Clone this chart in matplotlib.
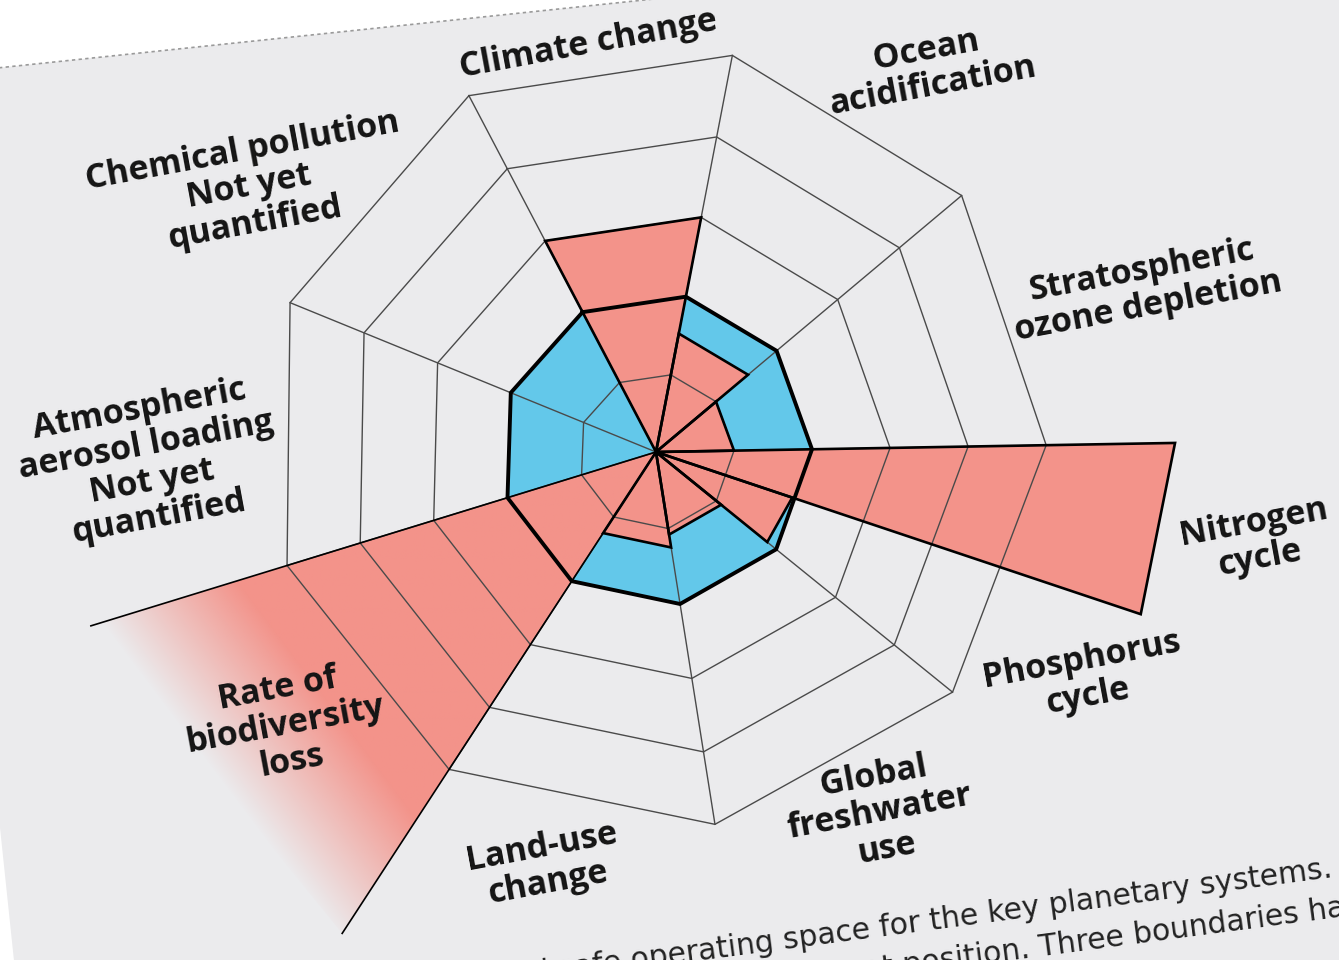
import numpy as np
import matplotlib.pyplot as plt
from matplotlib.patches import Polygon
from matplotlib.colors import to_rgb

# Planetary boundaries: where each system stands now, measured in grid rings.
# The safe operating space (blue) ends at ring 2.
sectors = ["Climate change", "Ocean acidification", "Stratospheric ozone depletion",
           "Nitrogen cycle", "Phosphorus cycle", "Global freshwater use",
           "Land-use change", "Rate of biodiversity loss",
           "Atmospheric aerosol loading", "Chemical pollution"]
slot = [0, 1, 2, 3, 3, 4, 5, 6, 7, 8]          # nitrogen and phosphorus share one slot
span_deg = [38.6, 39.1, 39.0, 19.5, 20.5, 42.0, 42.1, 39.8, 39.3, 40.1]
current = [3.0, 1.53, 1.0, 6.65, 1.85, 1.08, 1.25, 7.7, np.nan, np.nan]
boundary = 2.0
rings = [1, 2, 3, 4, 5]
labels = ["Climate change", "Ocean\nacidification", "Stratospheric\nozone depletion",
          "Nitrogen\ncycle", "Phosphorus\ncycle", "Global\nfreshwater\nuse",
          "Land-use\nchange", "Rate of\nbiodiversity\nloss",
          "Atmospheric\naerosol loading\nNot yet\nquantified",
          "Chemical pollution\nNot yet\nquantified"]
caption = ["Figure 1. The inner blue shading represents the proposed safe operating space for the key planetary systems.",
           "The red wedges represent an estimate of the current position. Three boundaries have"]

RED = "#f3938a"
BLUE = "#63c8ea"
PAGE = "#ebebed"
INK = "#141414"
GRID = "#4a4a4a"

start = 117.7       # left edge of the climate change sector (screenshot is tilted)
edges = start - np.concatenate([[0], np.cumsum(span_deg)])
spokes = [edges[i] for i in range(len(sectors)) if i == 0 or slot[i] != slot[i - 1]]

k = -0.007          # slight perspective of the photo: top nearer than bottom


def polar(r, deg):
    t = np.radians(deg)
    x, y = r * np.cos(t), r * np.sin(t)
    w = 1 + k * y
    return np.array([x / w, y / w])


def ring(r):
    return np.array([polar(r, a) for a in spokes])


# pixel -> chart units (centre of the web at pixel 656, 452; 78 px per ring)
cx, cy, unit = 656, 452, 78


def px(x, y):
    return np.array([(x - cx) / unit, (cy - y) / unit])


fig = plt.figure(figsize=(13.39, 9.6), dpi=100)
fig.patch.set_facecolor("white")
ax = fig.add_axes([0, 0, 1, 1])
ax.axis("off")

# the page, slightly rotated in the screenshot
pa = np.radians(6)
corner = px(-79, 76)
along = np.array([np.cos(pa), np.sin(pa)])
down = np.array([np.sin(pa), -np.cos(pa)])
page = [corner, corner + 40 * along, corner + 40 * along + 40 * down, corner + 40 * down]
ax.add_patch(Polygon(page, closed=True, fc=PAGE, ec="none", zorder=0))
top = np.array([corner, corner + 40 * along])
ax.plot(top[:, 0], top[:, 1], color="#9a9a9a", lw=1.2, ls=(0, (2, 2)), zorder=0.5)

# safe operating space
ax.add_patch(Polygon(ring(boundary), closed=True, fc=BLUE, ec="none", zorder=1))

# current position wedges
for name, a0, a1, v in zip(sectors, edges[:-1], edges[1:], current):
    if np.isnan(v):
        continue
    tri = np.array([[0, 0], polar(v, a0), polar(v, a1)])
    if name == "Rate of biodiversity loss":
        # open-ended wedge that fades into the page
        mid = np.radians((a0 + a1) / 2)
        xs = np.linspace(tri[:, 0].min(), tri[:, 0].max(), 500)
        ys = np.linspace(tri[:, 1].min(), tri[:, 1].max(), 500)
        X, Y = np.meshgrid(xs, ys)
        proj = X * np.cos(mid) + Y * np.sin(mid)
        rgba = np.zeros(X.shape + (4,))
        rgba[..., :3] = to_rgb(RED)
        rgba[..., 3] = np.clip((7.0 - proj) / (7.0 - 5.3), 0, 1)
        im = ax.imshow(rgba, extent=(xs[0], xs[-1], ys[0], ys[-1]), origin="lower",
                       interpolation="bilinear", aspect="auto", zorder=2)
        clip = Polygon(tri, closed=True, fc="none", ec="none")
        ax.add_patch(clip)
        im.set_clip_path(clip)
        for p in tri[1:]:
            ax.plot([0, p[0]], [0, p[1]], color="black", lw=1.2, zorder=4)
    else:
        ax.add_patch(Polygon(tri, closed=True, fc=RED, ec="none", zorder=2))
        ax.add_patch(Polygon(tri, closed=True, fc="none", ec="black", lw=1.9,
                             joinstyle="miter", zorder=4))

# web: rings and spokes
for r in rings:
    pts = ring(r)
    pts = np.vstack([pts, pts[:1]])
    ax.plot(pts[:, 0], pts[:, 1], color=GRID, lw=1.0, zorder=3)
for a in spokes:
    p = polar(rings[-1], a)
    ax.plot([0, p[0]], [0, p[1]], color=GRID, lw=1.0, zorder=3)

b = ring(boundary)
b = np.vstack([b, b[:1]])
ax.plot(b[:, 0], b[:, 1], color="black", lw=2.8, solid_joinstyle="miter", zorder=5)

# labels
label_xy = [(-0.87, 5.22), (3.51, 4.92), (6.27, 2.1), (7.7, -1.13), (5.5, -2.9),
            (2.87, -4.62), (-1.42, -5.3), (-4.76, -3.5), (-6.5, -0.15), (-5.22, 3.4)]
for text, (x, y) in zip(labels, label_xy):
    ax.text(x, y, text, ha="center", va="center", rotation=10.5, rotation_mode="anchor",
            fontsize=24.5, fontweight="bold", family="Open Sans", color=INK,
            linespacing=1.1, multialignment="center", zorder=6)

# caption running off the page
x, y = px(1333, 877)
ax.text(x, y, caption[0], ha="right", va="baseline", rotation=7.5, rotation_mode="anchor",
        fontsize=21.5, family="DejaVu Sans", color="#222222", zorder=6)
x, y = px(1382, 911)
ax.text(x, y, caption[1], ha="right", va="baseline", rotation=7.5, rotation_mode="anchor",
        fontsize=21.5, family="DejaVu Sans", color="#222222", zorder=6)

ax.set_xlim(px(0, 0)[0], px(1339, 0)[0])
ax.set_ylim(px(0, 960)[1], px(0, 0)[1])
fig.savefig("out.png", dpi=100, facecolor="white")
